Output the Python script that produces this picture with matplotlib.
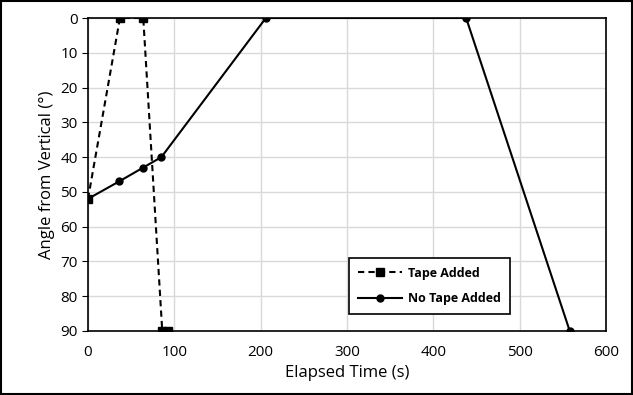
import matplotlib
matplotlib.use("Agg")
import matplotlib.pyplot as plt

# Tape added
tape_t = [0, 37, 64, 86, 93]
tape_ang = [52, 0, 0, 90, 90]

# No tape added
notape_t = [0, 36, 64, 85, 206, 438, 558]
notape_ang = [52, 47, 43, 40, 0, 0, 90]

plt.rcParams['font.family'] = ['Open Sans', 'DejaVu Sans']

fig = plt.figure(figsize=(6.33, 3.95), dpi=100)
ax = fig.add_axes([88/633, 1 - 331/395, (606-88)/633, (331-18)/395])

ax.plot(tape_t, tape_ang, color='black', linestyle=(0, (3, 2)), linewidth=1.5,
        marker='s', markersize=6, label='Tape Added', zorder=3)
ax.plot(notape_t, notape_ang, color='black', linestyle='-', linewidth=1.5,
        marker='o', markersize=5, label='No Tape Added', zorder=3)

ax.set_xlim(0, 600)
ax.set_ylim(90, 0)
ax.set_xticks(range(0, 601, 100))
ax.set_yticks(range(0, 91, 10))
ax.grid(True, color='#d9d9d9', linewidth=1)
ax.set_axisbelow(True)
for s in ax.spines.values():
    s.set_color('black')
    s.set_linewidth(1.2)
ax.tick_params(axis='both', labelsize=11, length=4, direction='out', colors='black')
ax.tick_params(axis='x', length=0, pad=10)
ax.set_xlabel('Elapsed Time (s)', fontsize=12)
ax.set_ylabel('Angle from Vertical (°)', fontsize=12)

leg = ax.legend(loc='lower right', bbox_to_anchor=(0.826, 0.035), fancybox=False,
                edgecolor='black', framealpha=1, prop={'weight': 'bold', 'size': 9},
                handlelength=3.5, borderpad=0.7, labelspacing=1.0, handletextpad=0.5)
leg.get_frame().set_linewidth(1.2)

fig.patches.append(plt.Rectangle((0.002, 0.002), 0.996, 0.996, transform=fig.transFigure,
                                 fill=False, edgecolor='black', linewidth=1.5))

fig.savefig('out.png', dpi=100)
